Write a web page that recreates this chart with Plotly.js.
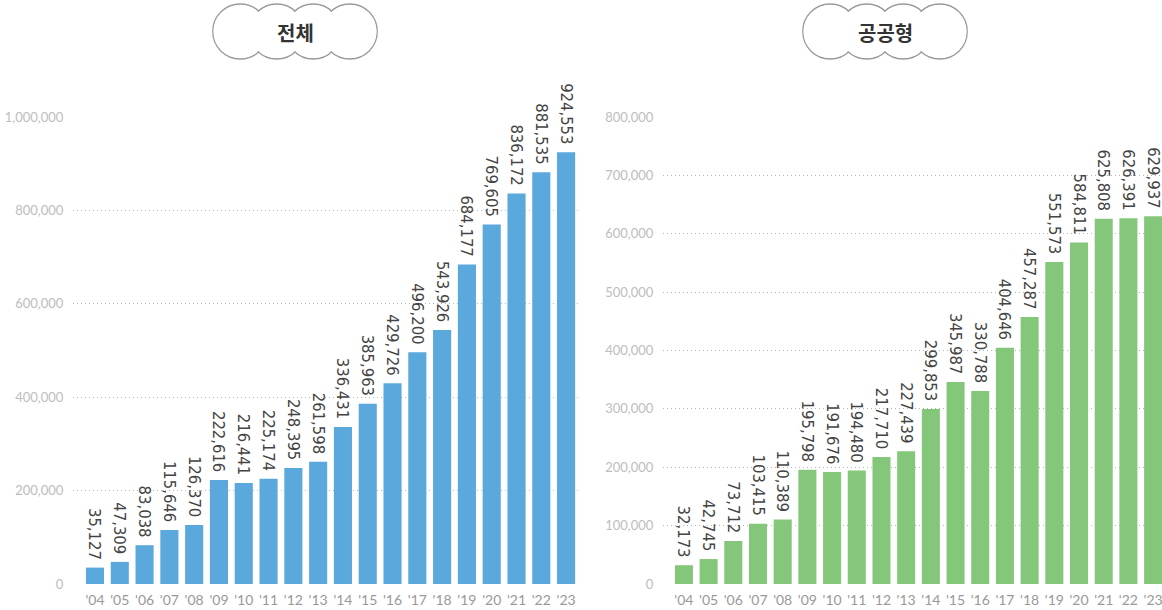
<!DOCTYPE html>
<html>
<head>
<meta charset="utf-8">
<script src="https://cdn.plot.ly/plotly-3.0.1.min.js"></script>
<style>
  html, body { margin: 0; padding: 0; background: #fff; }
  #chart { width: 1162px; height: 610px; }
</style>
</head>
<body>
<div id="chart"></div>
<script>
// ---- data ----
const years = ["'04","'05","'06","'07","'08","'09","'10","'11","'12","'13","'14","'15","'16","'17","'18","'19","'20","'21","'22","'23"];
const totalValues = [35127, 47309, 83038, 115646, 126370, 222616, 216441, 225174, 248395, 261598, 336431, 385963, 429726, 496200, 543926, 684177, 769605, 836172, 881535, 924553];
const publicValues = [32173, 42745, 73712, 103415, 110389, 195798, 191676, 194480, 217710, 227439, 299853, 345987, 330788, 404646, 457287, 551573, 584811, 625808, 626391, 629937];
const titleLeft = "전체";
const titleRight = "공공형";

// ---- layout helpers ----
const W = 1162, H = 610;
const fmt = v => v.toLocaleString('en-US') + '\u00a0';
const px = x => x / W;
const py = y => (H - y) / H;

const labelFont = { family: "DejaVu Sans Condensed, DejaVu Sans", size: 16.5, color: "#444" };
const tickFontY = { family: "Lato", size: 13, color: "#bdbdbd" };
const tickFontX = { family: "Lato", size: 14, color: "#999" };

const traces = [
  {
    type: 'bar', x: years, y: totalValues, xaxis: 'x', yaxis: 'y',
    marker: { color: '#5BA8DC' },
    text: totalValues.map(fmt), textposition: 'outside', textangle: 90,
    textfont: labelFont, cliponaxis: false, constraintext: 'none',
    hoverinfo: 'x+y'
  },
  {
    type: 'bar', x: years, y: publicValues, xaxis: 'x2', yaxis: 'y2',
    marker: { color: '#85C77A' },
    text: publicValues.map(fmt), textposition: 'outside', textangle: 90,
    textfont: labelFont, cliponaxis: false, constraintext: 'none',
    hoverinfo: 'x+y'
  }
];

const yCommon = {
  domain: [py(584), py(117)],
  showgrid: true, gridcolor: '#b5b5b5', griddash: '1px,3px', gridwidth: 1,
  zeroline: false, showline: false,
  tickformat: ',d', tickfont: tickFontY,
  ticks: 'outside', ticklen: 6, tickcolor: 'rgba(0,0,0,0)'
};
const xCommon = {
  type: 'category', showgrid: false, zeroline: false, showline: false,
  tickfont: tickFontX, ticks: 'outside', ticklen: 3, tickcolor: 'rgba(0,0,0,0)',
  fixedrange: true
};

// cloud shapes
function cloud(cx, cy) {
  const r = 27.5, off = [-54.75, -18.25, 18.25, 54.75];
  const shapes = [];
  off.forEach(o => shapes.push({
    type: 'circle', xref: 'paper', yref: 'paper',
    xsizemode: 'pixel', ysizemode: 'pixel',
    xanchor: px(cx), yanchor: py(cy),
    x0: o - r, x1: o + r, y0: -r, y1: r,
    fillcolor: '#fff', line: { color: '#9a9a9a', width: 1.3 }
  }));
  off.forEach(o => shapes.push({
    type: 'circle', xref: 'paper', yref: 'paper',
    xsizemode: 'pixel', ysizemode: 'pixel',
    xanchor: px(cx), yanchor: py(cy),
    x0: o - r + 0.9, x1: o + r - 0.9, y0: -r + 0.9, y1: r - 0.9,
    fillcolor: '#fff', line: { width: 0 }
  }));
  return shapes;
}

const layout = {
  width: W, height: H,
  margin: { l: 0, r: 0, t: 0, b: 0 },
  paper_bgcolor: '#fff', plot_bgcolor: '#fff',
  showlegend: false, bargap: 0.27,
  xaxis: Object.assign({}, xCommon, { domain: [px(73), px(578)], range: [-0.887, 19.48], anchor: 'y' }),
  yaxis: Object.assign({}, yCommon, { range: [0, 1000000], dtick: 200000, anchor: 'x' }),
  xaxis2: Object.assign({}, xCommon, { domain: [px(663), 1], range: [-0.847, 19.36], anchor: 'y2' }),
  yaxis2: Object.assign({}, yCommon, { range: [0, 800000], dtick: 100000, anchor: 'x2' }),
  shapes: cloud(295, 31.5).concat(cloud(885, 31.5)),
  annotations: [
    { text: '<b>' + titleLeft + '</b>', xref: 'paper', yref: 'paper', x: px(295), y: py(32),
      showarrow: false, xanchor: 'center', yanchor: 'middle',
      font: { family: 'Noto Sans CJK KR', size: 20, color: '#333' } },
    { text: '<b>' + titleRight + '</b>', xref: 'paper', yref: 'paper', x: px(885), y: py(32),
      showarrow: false, xanchor: 'center', yanchor: 'middle',
      font: { family: 'Noto Sans CJK KR', size: 20, color: '#333' } }
  ]
};

Plotly.newPlot('chart', traces, layout, { displayModeBar: false, staticPlot: true });
</script>
</body>
</html>
